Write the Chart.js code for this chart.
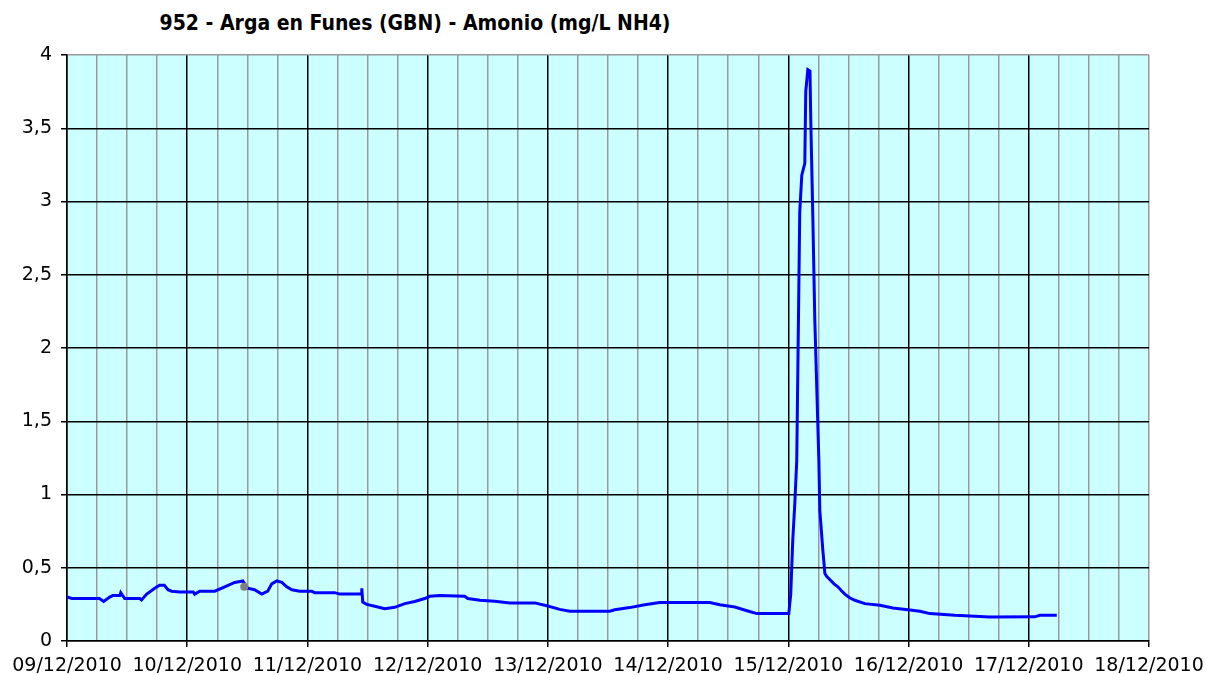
<!DOCTYPE html>
<html>
<head>
<meta charset="utf-8">
<script src="https://cdn.jsdelivr.net/npm/chart.js@4"></script>
<style>
html,body{margin:0;padding:0;background:#fff;}
#wrap{position:relative;width:1206px;height:675px;}
#title{position:absolute;top:10px;left:115px;width:600px;text-align:center;font:bold 21px "DejaVu Sans Condensed","DejaVu Sans",sans-serif;color:#000;white-space:nowrap;line-height:26px;}
canvas{position:absolute;left:0;top:0;}
</style>
</head>
<body>
<div id="wrap">
<div id="title">952 - Arga en Funes (GBN) - Amonio (mg/L NH4)</div>
<canvas id="c" width="1206" height="675"></canvas>
</div>
<script>
// time in days since 09/12/2010 00:00
const times = [0, 0.04, 0.27, 0.305, 0.355, 0.38, 0.44, 0.447, 0.48, 0.605, 0.62, 0.663, 0.73, 0.77, 0.81, 0.84, 0.87, 0.94, 1.05, 1.062, 1.104, 1.229, 1.312, 1.395, 1.462, 1.503, 1.56, 1.62, 1.67, 1.703, 1.745, 1.787, 1.828, 1.87, 1.936, 2.036, 2.06, 2.227, 2.269, 2.45, 2.452, 2.46, 2.493, 2.56, 2.643, 2.726, 2.81, 2.892, 2.975, 3.017, 3.1, 3.308, 3.334, 3.434, 3.558, 3.683, 3.891, 3.999, 4.099, 4.182, 4.515, 4.556, 4.68, 4.806, 4.93, 5.346, 5.43, 5.555, 5.663, 5.738, 6.004, 6.02, 6.037, 6.054, 6.07, 6.095, 6.112, 6.137, 6.145, 6.162, 6.18, 6.187, 6.204, 6.22, 6.254, 6.262, 6.287, 6.304, 6.32, 6.345, 6.38, 6.412, 6.44, 6.47, 6.51, 6.553, 6.636, 6.761, 6.87, 6.994, 7.094, 7.177, 7.385, 7.676, 8.05, 8.092, 8.233];
const ammonium = [0.30, 0.29, 0.29, 0.27, 0.30, 0.31, 0.31, 0.33, 0.29, 0.29, 0.28, 0.32, 0.36, 0.38, 0.38, 0.35, 0.34, 0.335, 0.335, 0.32, 0.34, 0.34, 0.37, 0.40, 0.41, 0.36, 0.35, 0.32, 0.34, 0.39, 0.41, 0.40, 0.37, 0.35, 0.34, 0.34, 0.33, 0.33, 0.32, 0.32, 0.36, 0.265, 0.25, 0.237, 0.22, 0.23, 0.255, 0.27, 0.29, 0.305, 0.31, 0.305, 0.29, 0.278, 0.271, 0.26, 0.26, 0.239, 0.216, 0.203, 0.203, 0.213, 0.228, 0.248, 0.262, 0.262, 0.248, 0.232, 0.205, 0.187, 0.187, 0.32, 0.69, 0.94, 1.23, 2.93, 3.18, 3.26, 3.75, 3.90, 3.89, 3.54, 2.89, 2.2, 1.23, 0.89, 0.62, 0.46, 0.44, 0.42, 0.39, 0.37, 0.345, 0.32, 0.295, 0.278, 0.255, 0.244, 0.225, 0.214, 0.203, 0.187, 0.175, 0.164, 0.165, 0.175, 0.175];
const flaggedTimes = [1.474];
const flaggedValues = [0.37];
const xTickLabels = ['09/12/2010','10/12/2010','11/12/2010','12/12/2010','13/12/2010','14/12/2010','15/12/2010','16/12/2010','17/12/2010','18/12/2010'];
const yMax = 4;

const bgPlugin = {
  id: 'bg',
  beforeDraw(chart) {
    const {ctx, chartArea: a} = chart;
    ctx.save();
    ctx.fillStyle = '#CCFFFF';
    ctx.fillRect(a.left, a.top, a.right - a.left, a.bottom - a.top);
    ctx.restore();
  }
};

const mainData = times.map((t, i) => ({x: t, y: ammonium[i]}));
const flagData = flaggedTimes.map((t, i) => ({x: t, y: flaggedValues[i]}));

new Chart(document.getElementById('c'), {
  type: 'line',
  data: {
    datasets: [
      {data: flagData, borderColor: '#808080', backgroundColor: '#808080', pointRadius: 4, showLine: false, pointBorderWidth: 0},
      {data: mainData, borderColor: '#0000FF', borderWidth: 3, pointRadius: 0, tension: 0, fill: false}
    ]
  },
  options: {
    responsive: false,
    animation: false,
    events: [],
    layout: {padding: {top: 55, right: 57, left: 0, bottom: 0}},
    plugins: {legend: {display: false}, tooltip: {enabled: false}, title: {display: false}},
    scales: {
      x: {
        type: 'linear', min: 0, max: 9,
        afterFit(s) { s.height = 34; s.paddingLeft = 0; s.paddingRight = 0; },
        ticks: {
          stepSize: 0.25, autoSkip: false, maxRotation: 0, minRotation: 0,
          color: '#000', font: {family: 'DejaVu Sans', size: 19}, padding: 8,
          callback: (v) => Number.isInteger(v) ? xTickLabels[v] : ''
        },
        grid: {
          color: (c) => { const v = c.tick ? c.tick.value : 0; return (Number.isInteger(v) && v !== 9) ? '#000000' : '#999999'; },
          lineWidth: 1.5,
          tickColor: (c) => { const v = c.tick ? c.tick.value : 0; return Number.isInteger(v) ? '#000000' : 'rgba(0,0,0,0)'; },
          tickLength: 6, tickWidth: 1.5
        },
        border: {color: '#000', width: 1.5}
      },
      y: {
        min: 0, max: yMax,
        afterFit(s) { s.width = 67; s.paddingTop = 0; s.paddingBottom = 0; },
        ticks: {
          stepSize: 0.5, color: '#000', font: {family: 'DejaVu Sans', size: 19}, padding: 9,
          callback: (v) => String(v).replace('.', ',')
        },
        grid: {
          color: (c) => (c.tick && c.tick.value === yMax) ? '#999999' : '#000000',
          lineWidth: 1.5, tickLength: 6, tickColor: '#000', tickWidth: 1.5
        },
        border: {color: '#000', width: 1.5}
      }
    }
  },
  plugins: [bgPlugin]
});
</script>
</body>
</html>
